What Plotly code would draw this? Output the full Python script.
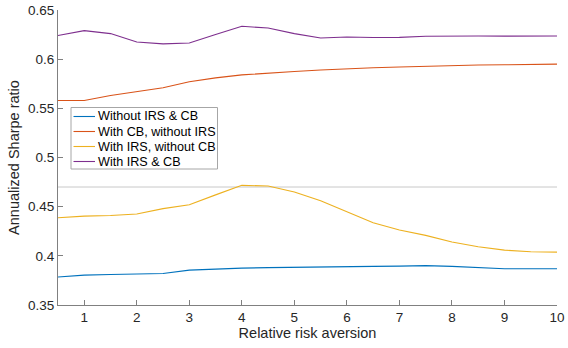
import plotly.graph_objects as go

risk_aversion = [0.5, 1, 1.5, 2, 2.5, 3, 3.5, 4, 4.5, 5, 5.5, 6, 6.5, 7, 7.5, 8, 8.5, 9, 9.5, 10]

without_irs_cb = [0.3784, 0.3804, 0.3810, 0.3814, 0.3820, 0.3855, 0.3868, 0.3875, 0.3880, 0.3885,
                  0.3888, 0.3890, 0.3893, 0.3895, 0.3900, 0.3893, 0.3880, 0.3868, 0.3868, 0.3868]
with_cb_without_irs = [0.5580, 0.5580, 0.5630, 0.5670, 0.5710, 0.5770, 0.5810, 0.5840, 0.5860, 0.5875,
                       0.5890, 0.5903, 0.5912, 0.5920, 0.5928, 0.5935, 0.5940, 0.5943, 0.5946, 0.5950]
with_irs_without_cb = [0.4387, 0.4404, 0.4410, 0.4425, 0.4480, 0.4520, 0.4620, 0.4717, 0.4710, 0.4650,
                       0.4560, 0.4448, 0.4336, 0.4262, 0.4208, 0.4140, 0.4092, 0.4058, 0.4041, 0.4038]
with_irs_cb = [0.6240, 0.6290, 0.6260, 0.6175, 0.6155, 0.6165, 0.6250, 0.6334, 0.6317, 0.6260,
               0.6215, 0.6225, 0.6220, 0.6222, 0.6233, 0.6238, 0.6236, 0.6234, 0.6234, 0.6236]

series_names = ["Without IRS & CB", "With CB, without IRS", "With IRS, without CB", "With IRS & CB"]
series_values = [without_irs_cb, with_cb_without_irs, with_irs_without_cb, with_irs_cb]
colors = ["#0072BD", "#D95319", "#EDB120", "#7E2F8E"]

ref_level = 0.47
x_ticks = [1, 2, 3, 4, 5, 6, 7, 8, 9, 10]
y_ticks = [0.35, 0.4, 0.45, 0.5, 0.55, 0.6, 0.65]
y_tick_labels = ["0.35", "0.4", "0.45", "0.5", "0.55", "0.6", "0.65"]

W, H = 568, 348
ML, MR, MT, MB = 58, 11, 10, 43
PW, PH = W - ML - MR, H - MT - MB

def px_x(p):
    return (p - ML) / PW

def px_y(p):
    return (H - MB - p) / PH

fig = go.Figure()

fig.add_trace(go.Scatter(x=[risk_aversion[0], risk_aversion[-1]], y=[ref_level, ref_level],
                         mode="lines", line=dict(color="#c8c8c8", width=1),
                         showlegend=False, hoverinfo="skip"))

for name, vals, c in zip(series_names, series_values, colors):
    fig.add_trace(go.Scatter(x=risk_aversion, y=vals, mode="lines", name=name,
                             line=dict(color=c, width=1.1), showlegend=False))

# Manual legend (MATLAB-style compact box)
shapes = [dict(type="rect", xref="paper", yref="paper",
               x0=px_x(71), x1=px_x(217.5), y0=px_y(169), y1=px_y(107.5),
               line=dict(color="#a6a6a6", width=1), fillcolor="white", layer="above")]
annotations = []
row_y = [116.5, 131.5, 146.5, 161.5]
for name, c, yy in zip(series_names, colors, row_y):
    shapes.append(dict(type="line", xref="paper", yref="paper",
                       x0=px_x(73.5), x1=px_x(95), y0=px_y(yy), y1=px_y(yy),
                       line=dict(color=c, width=1.1), layer="above"))
    annotations.append(dict(text=name, xref="paper", yref="paper", x=px_x(96), y=px_y(yy),
                            xanchor="left", yanchor="middle", showarrow=False,
                            font=dict(family="Liberation Sans, Arial", size=12.6, color="#000000")))

axis_common = dict(showline=True, linecolor="#808080", linewidth=1, ticks="inside",
                   ticklen=5, tickcolor="#808080", showgrid=False, zeroline=False,
                   automargin=False,
                   tickfont=dict(family="Liberation Sans, Arial", size=13.5, color="#262626"))

fig.update_layout(
    width=W, height=H,
    margin=dict(l=ML, r=MR, t=MT, b=MB),
    plot_bgcolor="white", paper_bgcolor="white",
    font=dict(family="Liberation Sans, Arial", color="#262626"),
    xaxis=dict(range=[0.5, 10], tickvals=x_ticks, title=dict(text="Relative risk aversion",
               font=dict(size=14.5), standoff=2), **axis_common),
    yaxis=dict(range=[0.35, 0.65], tickvals=y_ticks, ticktext=y_tick_labels,
               title=dict(text="Annualized Sharpe ratio", font=dict(size=14.5), standoff=4),
               **axis_common),
    shapes=shapes,
    annotations=annotations,
    showlegend=False,
)

fig.write_html("out.html", config={"displayModeBar": False},
               post_script="document.body.style.margin='0px';document.body.style.overflow='hidden';")
